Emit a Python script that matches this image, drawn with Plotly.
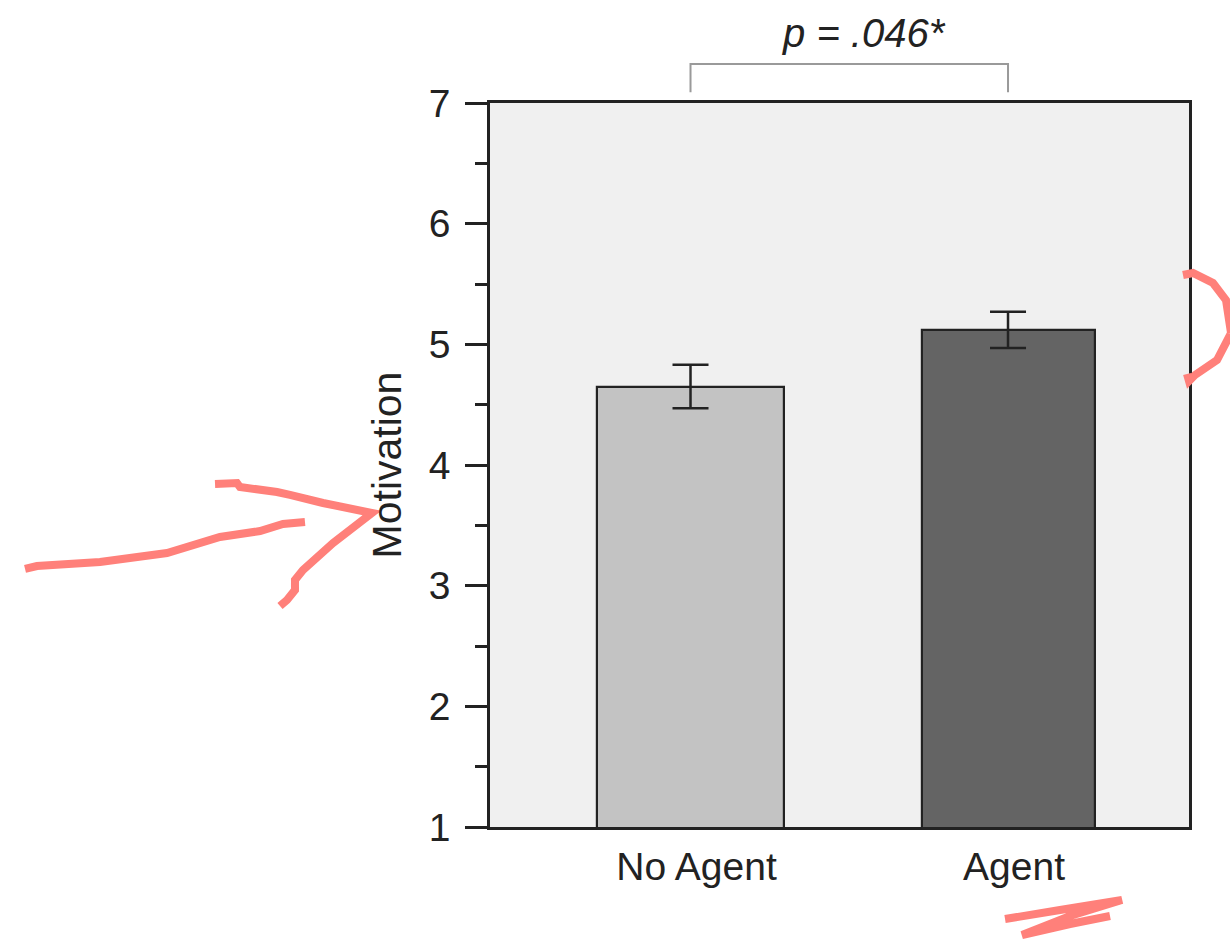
import plotly.graph_objects as go

# ---- data ----
categories = ["No Agent", "Agent"]
motivation_mean = [4.65, 5.12]
motivation_se = [0.18, 0.15]
bar_colors = ["#c3c3c3", "#646464"]
bar_widths = [0.59, 0.545]
y_ticks = [1, 2, 3, 4, 5, 6, 7]
p_label = "<i>p</i> <i>= .046*</i>"

positions = list(range(len(categories)))

W, H = 1230, 939
L, R, T, B = 490, 1189, 103, 827  # plot area in pixels
X_RANGE = [-0.6315, 1.570]
LABEL_SHIFT = 6 / (R - L) * (X_RANGE[1] - X_RANGE[0])  # tick labels sit ~6px right of bar centres


def px(x, y):
    return f"{(x - L) / (R - L):.4f},{(B - y) / (B - T):.4f}"


def path(points):
    return "M " + " L ".join(px(x, y) for x, y in points)


FONT = "Liberation Sans, Arial, Helvetica, sans-serif"
INK = "#222222"
RED = "rgb(255,128,122)"

fig = go.Figure()
fig.add_trace(go.Bar(
    x=positions,
    y=motivation_mean,
    width=bar_widths,
    marker=dict(color=bar_colors, line=dict(color=INK, width=2.2)),
    error_y=dict(type="data", array=motivation_se, color=INK, thickness=2.5, width=18),
    showlegend=False,
    hoverinfo="skip",
))

shapes = []
# significance bracket
shapes.append(dict(
    type="path", xref="x", yref="paper",
    path=f"M {positions[0]},1.015 L {positions[0]},1.054 L {positions[1]},1.054 L {positions[1]},1.015",
    line=dict(color="#9a9a9a", width=2),
))

# hand-drawn red marks
scribbles = [
    [(25, 569), (37, 566), (100, 562), (167, 553), (220, 537), (260, 531), (283, 524), (305, 522)],
    [(215, 484), (237, 483), (240, 487), (277, 492), (290, 495), (323, 503), (372, 513),
     (333, 543), (303, 570), (295, 580), (295, 590), (287, 600), (280, 606)],
    [(1183, 275), (1193, 273), (1213, 283), (1226, 300), (1231, 333), (1217, 360), (1195, 375),
     (1189, 381), (1187, 374)],
    [(1005, 919), (1060, 910), (1122, 900), (1070, 916), (1022, 935), (1070, 924), (1110, 916)],
]
for pts in scribbles:
    shapes.append(dict(type="path", xref="paper", yref="paper", path=path(pts),
                       line=dict(color=RED, width=8), layer="above"))

fig.update_layout(
    width=W, height=H,
    margin=dict(l=L, r=W - R, t=T, b=H - B, pad=0),
    paper_bgcolor="white",
    plot_bgcolor="#f0f0f0",
    font=dict(family=FONT, size=39, color=INK),
    shapes=shapes,
    annotations=[dict(
        x=0.546, xref="x", y=(B - 33) / (B - T), yref="paper",
        text=p_label, showarrow=False, xanchor="center", yanchor="middle",
        font=dict(family=FONT, size=40, color=INK),
    )],
    xaxis=dict(
        range=X_RANGE,
        tickvals=[p + LABEL_SHIFT for p in positions], ticktext=categories,
        ticks="", showgrid=False, zeroline=False,
        showline=True, linecolor=INK, linewidth=2.5, mirror=True,
        ticklabelstandoff=3,
        tickfont=dict(size=39),
    ),
    yaxis=dict(
        range=[1, 7], tickvals=y_ticks,
        ticks="outside", ticklen=22, tickwidth=2.5, tickcolor=INK,
        minor=dict(dtick=0.5, ticks="outside", ticklen=12, tickwidth=2.5, tickcolor=INK),
        showgrid=False, zeroline=False,
        showline=True, linecolor=INK, linewidth=2.5, mirror=True,
        ticklabelstandoff=7,
        tickfont=dict(size=39),
        title=dict(text="Motivation", standoff=15, font=dict(size=41)),
    ),
    bargap=0,
)

fig.write_html(
    "out.html",
    config={"displayModeBar": False},
    post_script="document.body.style.margin='0';document.body.style.overflow='hidden';",
)
